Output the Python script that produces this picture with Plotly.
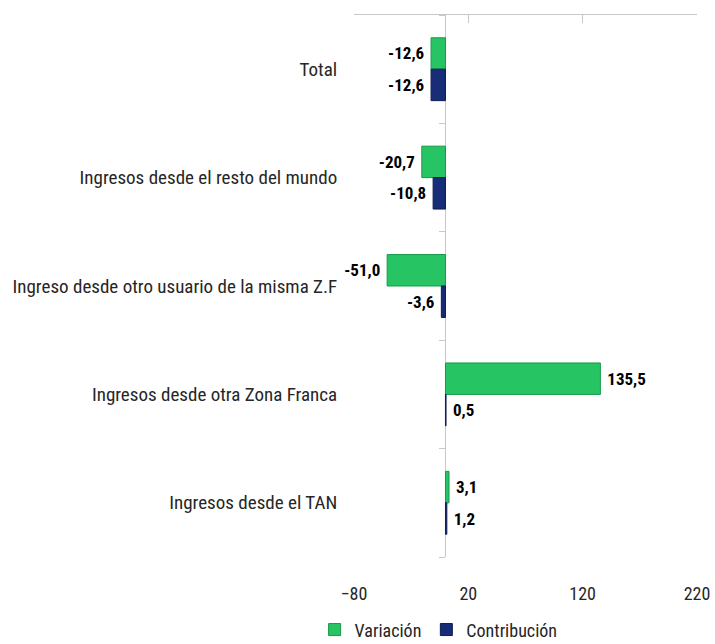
import plotly.graph_objects as go

categories = [
    "Total",
    "Ingresos desde el resto del mundo",
    "Ingreso desde otro usuario de la misma Z.F",
    "Ingresos desde otra Zona Franca",
    "Ingresos desde el TAN",
]
variacion = [-12.6, -20.7, -51.0, 135.5, 3.1]
contribucion = [-12.6, -10.8, -3.6, 0.5, 1.2]
x_ticks = [-80, 20, 120, 220]
x_range = [-80, 220]

FONT = "Liberation Sans Narrow, Arial Narrow, Roboto Condensed, Liberation Sans, sans-serif"

def fmt(v):
    return f"{v:.1f}".replace(".", ",")

def pad(v):
    s = fmt(v)
    return s + "\u00a0" if v < 0 else "\u00a0" + s

fig = go.Figure()
fig.add_trace(go.Bar(
    y=categories, x=variacion, orientation="h", name="Variación",
    marker=dict(color="#27c463", line=dict(color="#17994a", width=1)),
    text=[pad(v) for v in variacion], textposition="outside",
    textfont=dict(family=FONT, size=17, color="black", weight="bold"),
    cliponaxis=False,
))
fig.add_trace(go.Bar(
    y=categories, x=contribucion, orientation="h", name="Contribución",
    marker=dict(color="#182c78", line=dict(color="#0f1c52", width=1)),
    text=[pad(v) for v in contribucion], textposition="outside",
    textfont=dict(family=FONT, size=17, color="black", weight="bold"),
    cliponaxis=False,
))
# helper traces so the top axis line and the category ticks on the zero line are drawn
fig.add_trace(go.Scatter(x=[None], y=[None], xaxis="x2", yaxis="y", showlegend=False,
                         hoverinfo="skip", mode="markers"))
fig.add_trace(go.Scatter(x=[None], y=[None], xaxis="x", yaxis="y2", showlegend=False,
                         hoverinfo="skip", mode="markers"))

n = len(categories)
zero_pos = (0 - x_range[0]) / (x_range[1] - x_range[0])

fig.update_layout(
    width=715, height=644,
    margin=dict(l=354, r=18, t=15, b=87, autoexpand=False),
    paper_bgcolor="white", plot_bgcolor="white",
    barmode="group", bargap=0.42, bargroupgap=0,
    font=dict(family=FONT, size=19, color="#262626"),
    xaxis=dict(
        range=x_range, tickvals=x_ticks, showgrid=False, automargin=False,
        zeroline=True, zerolinecolor="#c8c8c8", zerolinewidth=1,
        showline=False, ticks="outside", ticklen=20, tickcolor="rgba(0,0,0,0)",
        tickfont=dict(family=FONT, size=18, color="#262626"),
    ),
    xaxis2=dict(
        overlaying="x", side="top", anchor="y", range=x_range, tickvals=x_ticks,
        showgrid=False, zeroline=False, showline=True, linecolor="#c8c8c8",
        ticks="inside", ticklen=8, tickcolor="#c8c8c8", showticklabels=False,
        automargin=False,
    ),
    yaxis=dict(
        autorange="reversed", showgrid=False, showline=False, automargin=False,
        ticks="outside", ticklen=12, tickcolor="rgba(0,0,0,0)",
        tickfont=dict(family=FONT, size=19, color="#262626"),
    ),
    yaxis2=dict(
        overlaying="y", anchor="free", position=zero_pos, type="linear",
        range=[n - 0.5, -0.5], tickvals=[i - 0.5 for i in range(n + 1)],
        showgrid=False, zeroline=False, showline=False, ticks="outside",
        ticklen=6, tickcolor="#c8c8c8", showticklabels=False, automargin=False,
    ),
    showlegend=True,
    legend=dict(
        orientation="h", xref="container", yref="container",
        x=0.44, xanchor="left", y=0.022, yanchor="middle",
        font=dict(family=FONT, size=18, color="#262626"),
        itemwidth=30, traceorder="normal",
    ),
)

fig.write_html("out.html", config={"displayModeBar": False},
               post_script="document.body.style.margin='0';")
